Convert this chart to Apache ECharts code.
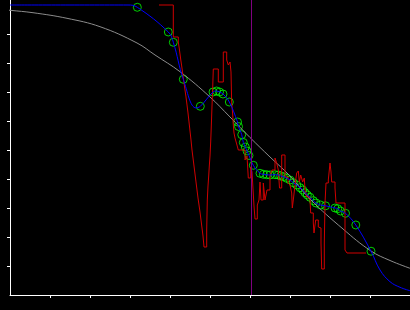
<!DOCTYPE html>
<html><head><meta charset="utf-8">
<script src="https://cdn.jsdelivr.net/npm/echarts@6/dist/echarts.min.js"></script>
<style>html,body{margin:0;padding:0;background:#000}#c{width:410px;height:310px}</style>
</head><body><div id="c"></div>
<script>
// Smooth reference curve (gray)
const grayCurve = [[-0.25,9.852],[0,9.817],[0.575,9.734],[1.425,9.541],[2.25,9.252],[3.175,8.69],[3.625,8.276],[4.25,7.7],[5.0,6.828],[5.5,6.138],[6.0,5.431],[6.5,4.759],[7.0,4.103],[7.5,3.31],[8.325,2.276],[9.025,1.517],[9.5,1.19],[10.0,0.921]];
// Measured markers (green circles)
const markers = [[3.183,9.921],[3.958,9.069],[4.083,8.714],[4.333,7.438],[4.758,6.507],[5.075,7.0],[5.163,7.034],[5.238,7.0],[5.325,6.931],[5.483,6.655],[5.688,5.966],[5.713,5.81],[5.793,5.528],[5.833,5.259],[5.883,5.103],[5.925,4.966],[5.975,4.81],[6.083,4.472],[6.25,4.197],[6.333,4.162],[6.418,4.148],[6.5,4.138],[6.625,4.148],[6.708,4.138],[6.768,4.103],[6.833,4.079],[6.918,4.024],[7.0,3.966],[7.083,3.872],[7.168,3.793],[7.25,3.7],[7.318,3.621],[7.375,3.528],[7.433,3.448],[7.5,3.369],[7.583,3.252],[7.65,3.172],[7.763,3.103],[7.888,3.076],[8.125,3.0],[8.193,2.976],[8.263,2.897],[8.388,2.817],[8.645,2.414],[9.025,1.51]];
// Fitted curve (blue): head, dip and tail points plus the markers
const blueHead = [[0,10],[2.95,10]];
const blueDip = [[4.65,6.45]];
const blueTail = [[9.25,0.862],[9.5,0.459],[9.75,0.266],[10,0.148]];
// Raw signal (red), step values
const redSignal = [[3.725,10.0],[4.0825,8.897],[4.2075,8.724],[4.23,8.517],[4.25,8.31],[4.27,8.103],[4.2925,7.897],[4.3125,7.69],[4.3325,7.483],[4.355,7.276],[4.375,7.069],[4.4,6.828],[4.425,6.552],[4.45,6.276],[4.475,5.966],[4.5,5.655],[4.525,5.345],[4.55,5.0],[4.575,4.724],[4.6,4.448],[4.625,4.172],[4.65,3.897],[4.675,3.621],[4.7,3.345],[4.725,3.103],[4.75,2.862],[4.775,2.586],[4.8,2.31],[4.825,2.034],[4.85,1.655],[4.9175,2.241],[4.9325,3.276],[4.95,3.759],[4.9675,4.103],[4.9825,4.448],[5.0,4.793],[5.0175,5.276],[5.0325,5.828],[5.05,6.517],[5.0675,7.138],[5.0825,7.793],[5.2075,7.345],[5.3325,8.379],[5.4175,8.103],[5.4575,7.931],[5.5,8.034],[5.525,7.69],[5.5425,6.621],[5.5625,6.31],[5.5825,5.862],[5.6,5.586],[5.625,5.414],[5.6675,5.207],[5.7075,5.0],[5.875,4.655],[5.925,4.793],[5.9575,4.034],[6.0175,4.414],[6.05,4.241],[6.1,3.069],[6.125,2.621],[6.1825,3.103],[6.225,3.276],[6.25,3.897],[6.275,3.276],[6.3325,3.862],[6.375,3.276],[6.425,3.621],[6.5,4.138],[6.55,4.31],[6.625,4.724],[6.6675,4.552],[6.7075,4.31],[6.7375,3.69],[6.7925,4.828],[6.875,4.069],[6.95,3.862],[7.0,3.793],[7.0425,3.517],[7.0575,3.0],[7.0825,3.276],[7.125,3.793],[7.1675,4.207],[7.2075,4.276],[7.2325,3.897],[7.2675,4.138],[7.3175,3.897],[7.3575,4.034],[7.375,3.621],[7.4175,3.379],[7.5,3.276],[7.5175,2.828],[7.5825,2.483],[7.6,2.138],[7.6425,2.586],[7.7075,2.345],[7.75,2.31],[7.775,1.793],[7.7925,0.897],[7.8575,1.793],[7.875,3.172],[7.9,3.862],[7.9575,3.966],[8.0,4.552],[8.025,4.241],[8.0425,3.897],[8.125,3.69],[8.15,3.172],[8.375,1.552],[8.425,1.448],[8.9,1.448]];
const refX = 6.025;
const xTicks = [1,2,3,4,5,6,7,8,9,10];
const yTicks = [1,2,3,4,5,6,7,8,9];

const bluePoints = blueHead.concat(markers.slice(0,4), blueDip, markers.slice(4), blueTail);

const chart = echarts.init(document.getElementById('c'), null, {renderer:'canvas'});
const axisCommon = {
  axisLine:{show:true, lineStyle:{color:'#fff', width:1}},
  axisLabel:{show:false},
  splitLine:{show:false}
};
chart.setOption({
  animation:false,
  backgroundColor:'#000',
  grid:{left:10, right:0, top:0, bottom:15},
  xAxis:Object.assign({type:'value', min:0, max:10,
    axisTick:{show:true, length:3, lineStyle:{color:'#fff'}, customValues:xTicks}}, axisCommon),
  yAxis:Object.assign({type:'value', min:0, max:295/29,
    axisTick:{show:true, length:3, lineStyle:{color:'#fff'}, customValues:yTicks}}, axisCommon),
  series:[
    {type:'line', data:grayCurve, smooth:0.4, showSymbol:false, clip:false,
     lineStyle:{color:'#8c8c8c', width:1},
     markLine:{silent:true, symbol:'none', label:{show:false},
       lineStyle:{color:'#800080', width:1, type:'solid'}, data:[{xAxis:refX}]}},
    {type:'line', data:redSignal, step:'end', showSymbol:false,
     lineStyle:{color:'#d00000', width:1}},
    {type:'line', data:bluePoints, smooth:0.4, showSymbol:false,
     lineStyle:{color:'#0000ff', width:1}},
    {type:'scatter', data:markers, symbol:'circle', symbolSize:8,
     itemStyle:{color:'transparent', borderColor:'#00ff00', borderWidth:1}}
  ]
});
</script></body></html>
